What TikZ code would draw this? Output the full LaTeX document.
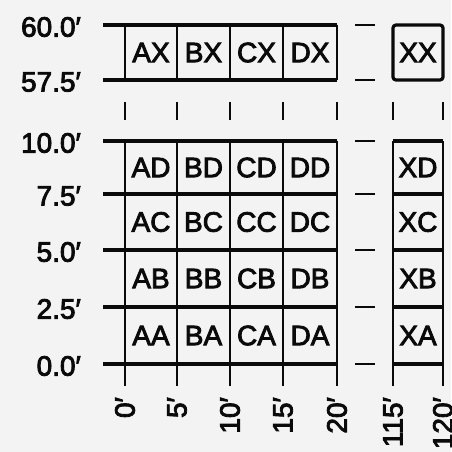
\documentclass[tikz,border=0pt]{standalone}
\usepackage{fontspec}
\setmainfont{Liberation Sans}
\newfontfamily\sheetfont[FakeBold=3]{Liberation Sans}
\usetikzlibrary{positioning}
\definecolor{paper}{HTML}{F3F3F3}
\definecolor{ink}{HTML}{0A0A0A}
\tikzset{
  rowline/.style ={draw=ink, line width=3.2pt},
  colline/.style ={draw=ink, line width=2.2pt},
  breaktick/.style={draw=ink, line width=2.2pt},
  gapdash/.style ={draw=ink, line width=2.8pt},
  lbl/.style     ={font=\sheetfont\fontsize{28}{28}\selectfont, inner sep=0pt, text=ink},
  cell/.style    ={lbl},
  ylab/.style    ={lbl, anchor=east},
  xlab/.style    ={lbl, anchor=east, rotate=90},
}
% columns: label/x, rows: label/y (picture units are pixels of the sheet)
\def\collist{0/125, 5/177, 10/230, 15/283, 20/337, 115/393, 120/443}
\def\rowlist{60.0/25, 57.5/80, 10.0/141, 7.5/194, 5.0/250, 2.5/307, 0.0/364}
\def\lowrows{141, 194, 250, 307, 364}
\def\maincols{125, 177, 230, 283, 337}
\def\celllist{%
  AX/151/52.5, BX/203.5/52.5, CX/256.5/52.5, DX/310/52.5, XX/418/52.5,
  AD/151/167.5, BD/203.5/167.5, CD/256.5/167.5, DD/310/167.5, XD/418/167.5,
  AC/151/222, BC/203.5/222, CC/256.5/222, DC/310/222, XC/418/222,
  AB/151/278.5, BB/203.5/278.5, CB/256.5/278.5, DB/310/278.5, XB/418/278.5,
  AA/151/335.5, BA/203.5/335.5, CA/256.5/335.5, DA/310/335.5, XA/418/335.5}

\begin{document}
\begin{tikzpicture}[x=1pt, y=-1pt]
\fill[paper] (0,0) rectangle (451,452);
\useasboundingbox (0,0) rectangle (451,452);
% --- upper strip (57.5' to 60.0') ---
\foreach \y in {25, 80}
  {\draw[rowline] (103,\y) -- (337,\y);}
\foreach \x in \maincols
  {\draw[colline] (\x,25) -- (\x,80);}
\draw[rowline, rounded corners=3pt] (393,25) rectangle (443,80);
% --- lower block (0.0' to 10.0') ---
\foreach \y in \lowrows
  {\draw[rowline] (103,\y) -- (337,\y);
   \draw[rowline] (393,\y) -- (443,\y);}
\foreach \x in \maincols
  {\draw[colline] (\x,141) -- (\x,386);}
\foreach \x in {393, 443}
  {\draw[colline] (\x,141) -- (\x,386);}
% --- breaks: short ticks for the omitted rows and columns ---
\foreach \n/\x in \collist
  {\draw[breaktick] (\x,102) -- (\x,120);}
\foreach \n/\y in \rowlist
  {\draw[gapdash] (355,\y) -- (375,\y);}
% --- labels ---
\foreach \n/\y in \rowlist
  {\node[ylab] (y\n) at (81,\y+2) {\n′};}
\foreach \n/\x in \collist
  {\node[xlab] (x\n) at (\x,397) {\n′};}
\foreach \n/\x/\y in \celllist
  {\node[cell] (\n) at (\x,\y) {\n};}
\end{tikzpicture}
\end{document}
